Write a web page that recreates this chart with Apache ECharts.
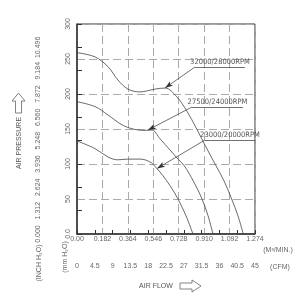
<!DOCTYPE html>
<html><head><meta charset="utf-8">
<script src="https://cdn.jsdelivr.net/npm/echarts@6/dist/echarts.min.js"></script>
<style>html,body{margin:0;padding:0;background:#fff}#c{width:300px;height:300px}</style>
</head><body><div id="c"></div>
<script>
// Flow in m3/min, pressure in mmH2O-scale (0..300)
const flow32000 = [0,0.129,0.222,0.293,0.365,0.451,0.558,0.630,0.714,0.785,0.857,0.916,0.988,1.052,1.107,1.152,1.190];
const pres32000 = [259,253,239,220,207,203,207,208.5,196,176,150,127,100,76,50,26,0];
const flow27500 = [0,0.129,0.222,0.322,0.401,0.487,0.537,0.594,0.666,0.723,0.766,0.837,0.895,0.938,0.973];
const pres27500 = [189,182,170,156,150,148,148.5,136,120,107,98,74,50,26,0];
const flow23000 = [0,0.129,0.222,0.293,0.365,0.451,0.522,0.570,0.616,0.666,0.723,0.780,0.830];
const pres23000 = [133,122,110,106,107,107,103,94,83,69,50,26,0];
const seriesNames = ['32000/28000RPM','27500/24000RPM','23000/20000RPM'];
// annotation anchors: [textStartFlow, textEndFlow, textPres, tipFlow, tipPres]
const notes = [
  [0.845,1.202,238.6,0.630,208.6],
  [0.823,1.188,181.4,0.508,148.6],
  [0.916,1.274,134.3,0.573,93.6]
];
const flowMax = 1.274, flowStep = 0.182;
const presMax = 300, presStep = 50;
const inchStep = 1.312;
const cfmMax = 45, cfmStep = 4.5;

const zip = (a,b) => a.map((v,i)=>[v,b[i]]);
const curves = [zip(flow32000,pres32000), zip(flow27500,pres27500), zip(flow23000,pres23000)];

const lblFont = {fontFamily:'Liberation Sans, Arial, sans-serif', fontSize:7, color:'#666'};
const noteFont = "'Liberation Sans Narrow','DejaVu Sans Condensed',sans-serif";

const chart = echarts.init(document.getElementById('c'), null, {renderer:'canvas'});
chart.setOption({
  animation:false,
  grid:{left:77,right:45,top:24,bottom:66,show:true,borderColor:'#333',borderWidth:1,backgroundColor:'transparent'},
  xAxis:[{
    type:'value',min:0,max:flowMax,interval:flowStep,
    axisLine:{show:false},axisTick:{show:false},
    splitLine:{show:true,lineStyle:{color:'#aaa',type:[8,4],width:1}},
    axisLabel:Object.assign({margin:2,showMaxLabel:true,formatter:v=>v===0?'0.00':v.toFixed(3)},lblFont)
  },{
    type:'value',min:0,max:cfmMax,interval:cfmStep,position:'bottom',offset:24,
    axisLine:{show:true,lineStyle:{color:'#333',width:1.5}},
    axisTick:{show:true,inside:true,length:4,lineStyle:{color:'#333'}},
    splitLine:{show:false},
    axisLabel:Object.assign({margin:5},lblFont)
  }],
  yAxis:[{
    type:'value',min:0,max:presMax,interval:presStep,
    axisLine:{show:false},axisTick:{show:false},
    splitLine:{show:true,lineStyle:{color:'#aaa',type:[8,4],width:1}},
    axisLabel:Object.assign({margin:5,rotate:90,formatter:v=>v===0?'0.0':String(v)},lblFont)
  },{
    type:'value',min:0,max:presMax/25.4,interval:inchStep,position:'left',offset:25,
    axisLine:{show:true,lineStyle:{color:'#333',width:1.5}},
    axisTick:{show:true,inside:true,length:5,lineStyle:{color:'#333'}},
    splitLine:{show:false},
    axisLabel:Object.assign({margin:10,rotate:90,formatter:v=>v>10.6?'':v.toFixed(3)},lblFont)
  }],
  series:curves.map((d,i)=>({
    type:'line',name:seriesNames[i],data:d,smooth:0.35,showSymbol:false,
    xAxisIndex:0,yAxisIndex:0,
    lineStyle:{color:'#444',width:0.8},
    markLine:{
      silent:true,symbol:['none','arrow'],symbolSize:[1,8],
      lineStyle:{color:'#333',width:0.7,type:'solid'},
      label:{show:false},
      data:[
        [{coord:[notes[i][0],notes[i][2]],symbol:'none',
          label:{show:true,position:'insideMiddleTop',distance:1,formatter:seriesNames[i],
                 fontFamily:noteFont,fontSize:7.5,color:'#555'}},
         {coord:[notes[i][1],notes[i][2]],symbol:'none'}],
        [{coord:[notes[i][0],notes[i][2]],symbol:'none'},
         {coord:[notes[i][3],notes[i][4]],symbol:'arrow',symbolSize:[4,8],itemStyle:{color:'#111'}}]
      ]
    }
  })),
  graphic:[
    {type:'text',x:278,y:250,style:{text:'(M³/MIN.)',align:'center',verticalAlign:'middle',fill:'#666',font:'7px Liberation Sans, Arial, sans-serif'}},
    {type:'text',x:280,y:267,style:{text:'(CFM)',align:'center',verticalAlign:'middle',fill:'#666',font:'7px Liberation Sans, Arial, sans-serif'}},
    {type:'text',x:156,y:286,style:{text:'AIR FLOW',align:'center',verticalAlign:'middle',fill:'#555',font:'7px Liberation Sans, Arial, sans-serif'}},
    {type:'polygon',shape:{points:[[180,283],[192,283],[192,280],[201,286],[192,292],[192,289],[180,289]]},style:{fill:'#fff',stroke:'#666',lineWidth:0.8}},
    {type:'text',x:19,y:143,rotation:Math.PI/2,style:{text:'AIR PRESSURE',align:'center',verticalAlign:'middle',fill:'#555',font:'7px Liberation Sans, Arial, sans-serif'}},
    {type:'polygon',shape:{points:[[18.5,93],[25,101],[21.5,101],[21.5,113],[15.5,113],[15.5,101],[12,101]]},style:{fill:'#fff',stroke:'#666',lineWidth:0.8}},
    {type:'text',x:39,y:263,rotation:Math.PI/2,style:{text:'(INCH H₂O)',align:'center',verticalAlign:'middle',fill:'#666',font:'7px Liberation Sans, Arial, sans-serif'}},
    {type:'text',x:65,y:257,rotation:Math.PI/2,style:{text:'(mm H₂O)',align:'center',verticalAlign:'middle',fill:'#666',font:'7px Liberation Sans, Arial, sans-serif'}}
  ]
});
</script></body></html>
